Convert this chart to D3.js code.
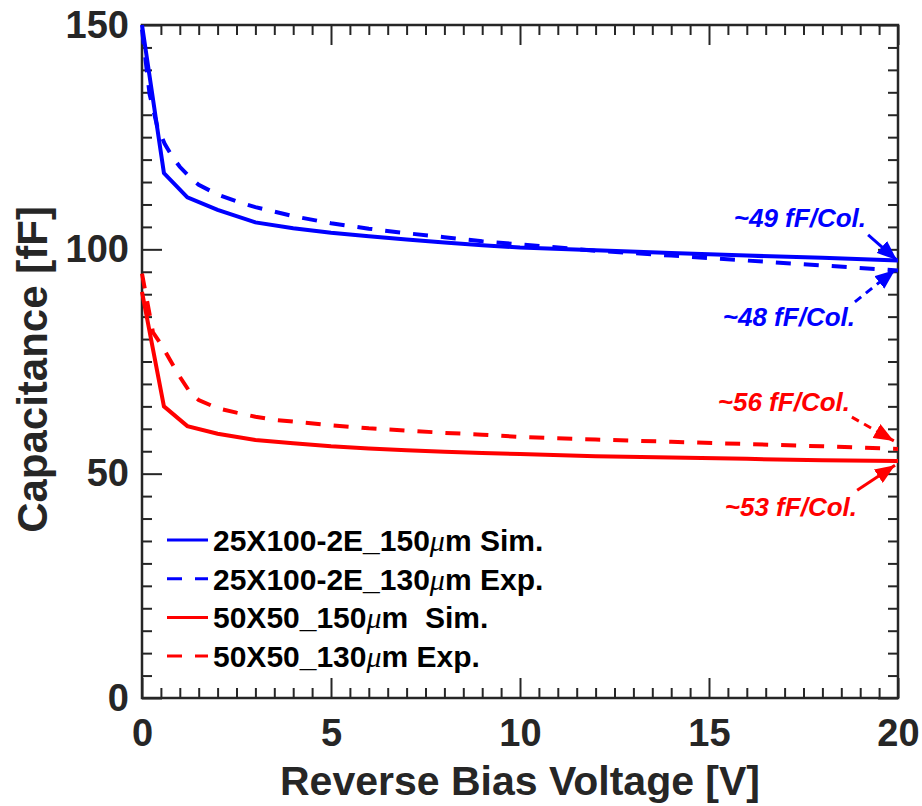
<!DOCTYPE html>
<html>
<head>
<meta charset="utf-8">
<script src="https://cdn.jsdelivr.net/npm/d3@7"></script>
<style>
  body { margin: 0; background: #fff; }
  svg text { font-family: "Liberation Sans", Arial, Helvetica, sans-serif; font-weight: bold; }
</style>
</head>
<body>
<svg id="chart" width="922" height="806"></svg>
<script>
// data (V, fF)
const v_sim = [0, 0.58, 1.2, 2, 3, 4, 5, 6, 7, 8, 9, 10, 12, 14, 16, 18, 20];
const blue_sim = [150, 117, 111.6, 108.8, 106.0, 104.7, 103.7, 102.9, 102.2, 101.5, 100.9, 100.4, 99.8, 99.2, 98.6, 98.1, 97.5];
const red_sim = [90.5, 65.0, 60.6, 58.9, 57.5, 56.8, 56.1, 55.6, 55.2, 54.9, 54.6, 54.4, 53.9, 53.6, 53.3, 53.0, 52.8];

const v_exp_blue = [0, 0.2, 0.4, 0.6, 0.8, 1, 1.25, 1.5, 2, 2.5, 3, 3.5, 4, 5, 6, 7, 8, 9, 10, 12, 14, 16, 18, 20];
const blue_exp = [149, 134.6, 127.5, 123.5, 120.7, 118.4, 116.2, 114.4, 112.2, 110.7, 109.4, 108.4, 107.4, 105.8, 104.6, 103.6, 102.7, 101.8, 101.1, 99.7, 98.6, 97.5, 96.4, 95.3];

const v_exp_red = [0, 0.29, 0.53, 0.75, 1, 1.25, 1.5, 2, 2.5, 3, 3.5, 4, 5, 6, 7, 8, 9, 10, 12, 14, 16, 18, 20];
const red_exp = [94.6, 81.5, 78.5, 75.2, 71.6, 68.4, 66.4, 64.6, 63.6, 62.7, 62.0, 61.6, 60.8, 60.1, 59.6, 59.1, 58.7, 58.2, 57.6, 57.1, 56.6, 56.1, 55.5];

const series_names = ["25X100-2E_150", "25X100-2E_130", "50X50_150", "50X50_130"];
const series_suffix = ["m Sim.", "m Exp.", "m\u00a0 Sim.", "m Exp."];
const series_colors = ["#0000ff", "#0000ff", "#ff0000", "#ff0000"];
const series_dashed = [false, true, false, true];

const x_ticks = [0, 5, 10, 15, 20];
const y_ticks = [0, 50, 100, 150];

// annotations: text, arrow start [V, fF], arrow end [V, fF]
const notes = [
  {text: "~49 fF/Col.", color: "#0000ff", dashed: false, from: [19.21, 103.2], to: [19.97, 97.6], tx: 866, ty: 227},
  {text: "~48 fF/Col.", color: "#0000ff", dashed: true,  from: [18.86, 88.3],  to: [19.92, 95.4], tx: 855, ty: 326},
  {text: "~56 fF/Col.", color: "#ff0000", dashed: true,  from: [18.78, 62.6],  to: [19.89, 57.3], tx: 850, ty: 411},
  {text: "~53 fF/Col.", color: "#ff0000", dashed: false, from: [18.92, 46.3],  to: [19.92, 51.9], tx: 857, ty: 516}
];

const margin = {top: 25, right: 24, bottom: 108, left: 142};
const W = 922, H = 806;
const width = W - margin.left - margin.right;
const height = H - margin.top - margin.bottom;
const axisColor = "#262626";

const svg = d3.select("#chart");
const g = svg.append("g").attr("transform", "translate(" + margin.left + "," + margin.top + ")");

const x = d3.scaleLinear().domain([0, 20]).range([0, width]);
const y = d3.scaleLinear().domain([0, 150]).range([height, 0]);

const x_minor = d3.range(0, 20.01, 0.5).filter(v => v % 5 !== 0);
const y_minor = d3.range(0, 150.01, 5).filter(v => v % 50 !== 0);

function styleAxis(sel) {
  sel.select(".domain").remove();
  sel.selectAll(".tick line").attr("stroke", axisColor).attr("stroke-width", 2);
  sel.selectAll("text").attr("fill", axisColor);
}

// minor ticks on all four sides
g.append("g").attr("transform", "translate(0," + height + ")")
  .call(d3.axisBottom(x).tickValues(x_minor).tickSize(-10).tickFormat("")).call(styleAxis);
g.append("g")
  .call(d3.axisTop(x).tickValues(x_minor).tickSize(-10).tickFormat("")).call(styleAxis);
g.append("g")
  .call(d3.axisLeft(y).tickValues(y_minor).tickSize(-10).tickFormat("")).call(styleAxis);
g.append("g").attr("transform", "translate(" + width + ",0)")
  .call(d3.axisRight(y).tickValues(y_minor).tickSize(-10).tickFormat("")).call(styleAxis);

// major ticks
const xb = g.append("g").attr("transform", "translate(0," + height + ")")
  .call(d3.axisBottom(x).tickValues(x_ticks).tickSize(-20).tickPadding(21)).call(styleAxis);
xb.selectAll("text").attr("font-size", 38);
g.append("g")
  .call(d3.axisTop(x).tickValues(x_ticks).tickSize(-20).tickFormat("")).call(styleAxis);
const yl = g.append("g")
  .call(d3.axisLeft(y).tickValues(y_ticks).tickSize(-20).tickPadding(13)).call(styleAxis);
yl.selectAll("text").attr("font-size", 38);
g.append("g").attr("transform", "translate(" + width + ",0)")
  .call(d3.axisRight(y).tickValues(y_ticks).tickSize(-20).tickFormat("")).call(styleAxis);

// frame
g.append("rect").attr("width", width).attr("height", height)
  .attr("fill", "none").attr("stroke", axisColor).attr("stroke-width", 2.5);

// lines
const line = d3.line().x(d => x(d[0])).y(d => y(d[1]));
const lineData = [
  d3.zip(v_sim, blue_sim),
  d3.zip(v_exp_blue, blue_exp),
  d3.zip(v_sim, red_sim),
  d3.zip(v_exp_red, red_exp)
];
g.append("g").selectAll("path")
  .data(lineData)
  .enter().append("path")
  .attr("fill", "none")
  .attr("stroke", (d, i) => series_colors[i])
  .attr("stroke-width", 4)
  .attr("stroke-dasharray", (d, i) => series_dashed[i] ? "15,13" : null)
  .attr("d", line);

// arrow heads
const defs = svg.append("defs");
["#0000ff", "#ff0000"].forEach(function(c, i) {
  defs.append("marker")
    .attr("id", "head" + i)
    .attr("markerUnits", "userSpaceOnUse")
    .attr("viewBox", "0 0 20 16")
    .attr("refX", 20).attr("refY", 8)
    .attr("markerWidth", 20).attr("markerHeight", 16)
    .attr("orient", "auto")
    .append("path").attr("d", "M0,0 L20,8 L0,16 Z").attr("fill", c);
});

notes.forEach(function(n) {
  g.append("line")
    .attr("x1", x(n.from[0])).attr("y1", y(n.from[1]))
    .attr("x2", x(n.to[0])).attr("y2", y(n.to[1]))
    .attr("stroke", n.color).attr("stroke-width", 3)
    .attr("stroke-dasharray", n.dashed ? "8,6" : null)
    .attr("marker-end", "url(#head" + (n.color === "#0000ff" ? 0 : 1) + ")");
  svg.append("text")
    .attr("x", n.tx).attr("y", n.ty)
    .attr("text-anchor", "end")
    .attr("font-size", 26)
    .attr("font-style", "italic")
    .attr("fill", n.color)
    .text(n.text);
});

// legend
const legend = svg.append("g");
series_names.forEach(function(name, i) {
  const ly = 540 + i * 38.7;
  legend.append("line")
    .attr("x1", 167).attr("x2", 208).attr("y1", ly).attr("y2", ly)
    .attr("stroke", series_colors[i]).attr("stroke-width", 3)
    .attr("stroke-dasharray", series_dashed[i] ? "15,13" : null);
  const t = legend.append("text")
    .attr("x", 213).attr("y", ly + 11)
    .attr("font-size", 30)
    .attr("fill", "#000");
  t.append("tspan").text(name);
  t.append("tspan")
    .attr("font-family", "'Liberation Serif', 'DejaVu Serif', serif")
    .attr("font-style", "italic").attr("font-weight", "normal")
    .text("\u03bc");
  t.append("tspan").text(series_suffix[i]);
});

// axis titles
svg.append("text")
  .attr("x", margin.left + width / 2).attr("y", 795)
  .attr("text-anchor", "middle")
  .attr("font-size", 41)
  .attr("fill", axisColor)
  .text("Reverse Bias Voltage [V]");

svg.append("text")
  .attr("transform", "translate(47," + (margin.top + height / 2 + 8) + ") rotate(-90)")
  .attr("text-anchor", "middle")
  .attr("font-size", 42)
  .attr("fill", axisColor)
  .text("Capacitance [fF]");
</script>
</body>
</html>
